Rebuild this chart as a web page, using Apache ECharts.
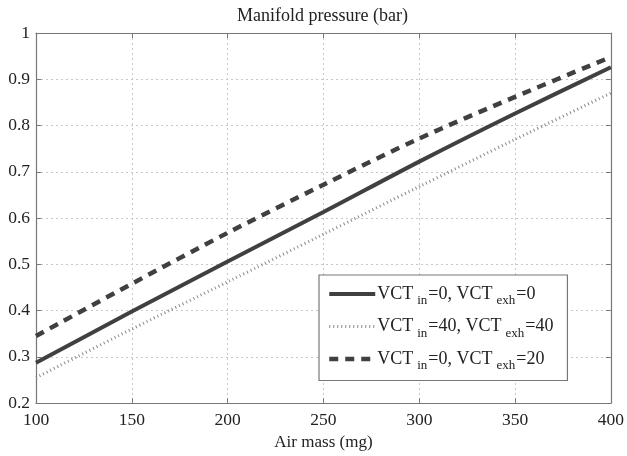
<!DOCTYPE html>
<html>
<head>
<meta charset="utf-8">
<script src="https://cdn.jsdelivr.net/npm/echarts@6/dist/echarts.min.js"></script>
<style>html,body{margin:0;padding:0;background:#fff}#c{width:627px;height:456px}</style>
</head>
<body>
<div id="c"></div>
<script>
const airMass = [100, 150, 200, 250, 300, 350, 400];
const vct0_0 = [0.287, 0.398, 0.506, 0.613, 0.722, 0.826, 0.926];
const vct40_40 = [0.255, 0.360, 0.462, 0.565, 0.668, 0.770, 0.870];
const vct0_20 = [0.345, 0.458, 0.568, 0.672, 0.772, 0.862, 0.948];
const yTicks = [0.2, 0.3, 0.4, 0.5, 0.6, 0.7, 0.8, 0.9, 1];
const names = ['VCT{s|in}=0, VCT{s|exh}=0', 'VCT{s|in}=40, VCT{s|exh}=40', 'VCT{s|in}=0, VCT{s|exh}=20'];

const font = 'Liberation Serif';
const chart = echarts.init(document.getElementById('c'));
const pair = (ys) => airMass.map((x, i) => [x, ys[i]]);
const gridLine = { show: true, lineStyle: { color: '#c8c8c8', type: [2, 3], width: 1 } };
const axisLineStyle = { show: true, lineStyle: { color: '#777', width: 1.2 } };
const tick = { show: true, inside: true, length: 5, lineStyle: { color: '#777' } };

chart.setOption({
  animation: false,
  backgroundColor: '#fff',
  title: {
    text: 'Manifold pressure (bar)', left: 232, top: 2,
    textStyle: { fontFamily: font, fontSize: 18, fontWeight: 'normal', color: '#222' }
  },
  grid: { left: 36, right: 15, top: 33, bottom: 48 },
  legend: {
    orient: 'vertical', left: 319, top: 275,
    padding: [10, 14, 8, 8], itemGap: 10, itemWidth: 46, itemHeight: 14,
    backgroundColor: '#fff', borderColor: '#777', borderWidth: 1.2,
    itemStyle: { opacity: 0 },
    textStyle: {
      fontFamily: font, fontSize: 18, color: '#222', padding: [0, 0, 0, -3],
      rich: { s: { fontFamily: font, fontSize: 13, color: '#222', padding: [14, 1, 0, 4] } }
    },
    data: [
      { name: names[0], lineStyle: { width: 4 } },
      { name: names[1], lineStyle: { width: 3 } },
      { name: names[2], lineStyle: { width: 4.5 } }
    ]
  },
  xAxis: [{
    type: 'value', min: 100, max: 400, interval: 50,
    name: 'Air mass (mg)', nameLocation: 'middle', nameGap: 29,
    nameTextStyle: { fontFamily: font, fontSize: 17, color: '#222' },
    axisLabel: { fontFamily: font, fontSize: 17.5, color: '#222', margin: 8 },
    axisLine: axisLineStyle, axisTick: tick, splitLine: gridLine
  }, {
    type: 'value', min: 100, max: 400, interval: 50, position: 'top',
    axisLabel: { show: false }, axisLine: axisLineStyle, axisTick: tick, splitLine: { show: false }
  }],
  yAxis: [{
    type: 'value', min: 0.2, max: 1, interval: 0.1,
    axisLabel: { fontFamily: font, fontSize: 17.5, color: '#222', margin: 6,
      formatter: (v) => { const t = yTicks.find(k => Math.abs(k - v) < 1e-6); return t === undefined ? '' : String(t); } },
    axisLine: axisLineStyle, axisTick: tick, splitLine: gridLine
  }, {
    type: 'value', min: 0.2, max: 1, interval: 0.1, position: 'right',
    axisLabel: { show: false }, axisLine: axisLineStyle, axisTick: tick, splitLine: { show: false }
  }],
  series: [
    { name: names[0], type: 'line', data: pair(vct0_0), symbol: 'none', smooth: 0.3,
      lineStyle: { color: '#404040', width: 4, type: 'solid' }, itemStyle: { color: '#404040' } },
    { name: names[1], type: 'line', data: pair(vct40_40), symbol: 'none', smooth: 0.3,
      lineStyle: { color: '#8a8a8a', width: 3, type: [1, 3] }, itemStyle: { color: '#8a8a8a' } },
    { name: names[2], type: 'line', data: pair(vct0_20), symbol: 'none', smooth: 0.3,
      lineStyle: { color: '#404040', width: 4.5, type: [9, 7] }, itemStyle: { color: '#404040' } }
  ]
});
</script>
</body>
</html>
